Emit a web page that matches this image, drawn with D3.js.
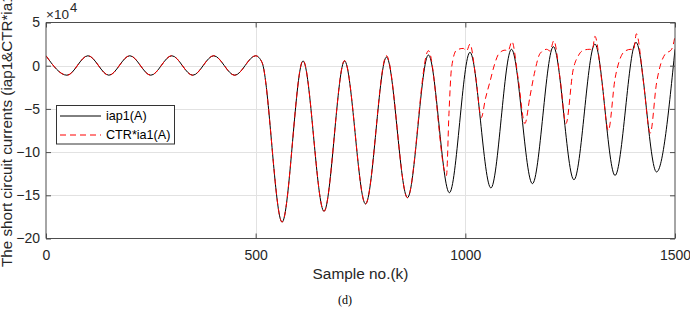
<!DOCTYPE html>
<html>
<head>
<meta charset="utf-8">
<script src="https://cdn.jsdelivr.net/npm/d3@7"></script>
<style>
  body { margin: 0; background: #fff; }
  svg { display: block; font-family: 'Liberation Sans', Arial, sans-serif; }
</style>
</head>
<body>
<div id="vis"></div>
<script>
// Sample no. and value (x1e4) at the turning points.
var iapT = [0, 50, 100, 150, 200, 250, 300, 350, 400, 450, 500, 515, 563, 613, 663, 712, 762, 812, 862,
  912, 962, 1011, 1061, 1110, 1160, 1210, 1259, 1309, 1357, 1407, 1456, 1500];
var iapV = [1.15, -1.1, 1.15, -1.1, 1.15, -1.1, 1.15, -1.1, 1.15, -1.1, 1.15, 0.4, -18.1, 0.55, -16.85,
  0.55, -16.0, 1.0, -15.27, 1.24, -14.7, 1.55, -14.15, 1.9, -13.65, 2.2, -13.2, 2.5, -12.7, 2.7, -12.3, 1.9];

var ctrT = [0, 50, 100, 150, 200, 250, 300, 350, 400, 450, 500, 515, 563, 613, 663, 712, 762, 812, 862, 912,
  955, 961, 967, 979, 995, 1003, 1011,
  1025, 1038, 1048, 1059, 1070, 1080, 1095, 1102, 1111,
  1126, 1142, 1154, 1166, 1178, 1194, 1202, 1211,
  1226, 1240, 1257, 1270, 1282, 1297, 1303, 1309,
  1326, 1341, 1357, 1369, 1381, 1395, 1401, 1408,
  1425, 1441, 1456, 1466, 1476, 1492, 1500];
var ctrV = [1.15, -1.1, 1.15, -1.1, 1.15, -1.1, 1.15, -1.1, 1.15, -1.1, 1.15, 0.4, -18.1, 0.6, -16.85, 0.6,
  -16.0, 1.15, -15.27, 1.74,
  -12.7, -5.5, -0.3, 1.8, 2.0, 1.7, 2.5,
  -1.4, -6.0, -3.8, -1.8, 0.2, 1.4, 1.8, 1.7, 2.8,
  -1.5, -6.7, -3.6, -0.6, 1.4, 1.9, 1.7, 2.9,
  -1.5, -6.7, -0.5, 1.2, 1.8, 1.9, 1.8, 3.4,
  -2.0, -7.5, -1.5, 0.8, 1.7, 1.9, 1.8, 3.7,
  -2.0, -7.8, -2.0, 0.2, 1.3, 1.9, 3.4];

var xTicks = [0, 500, 1000, 1500];
var yTicks = [-20, -15, -10, -5, 0, 5];
var legendLabels = ['iap1(A)', 'CTR*ia1(A)'];

var width = 690;
var height = 317;
var plot = {left: 46, right: 675, top: 22.5, bottom: 238.5};

var svg = d3.select('#vis')
  .append('svg')
  .attr('width', width)
  .attr('height', height);

var x = d3.scaleLinear().domain([0, 1500]).range([plot.left, plot.right]);
var y = d3.scaleLinear().domain([-20, 5]).range([plot.bottom, plot.top]);

svg.append('clipPath')
  .attr('id', 'clip')
  .append('rect')
  .attr('x', plot.left)
  .attr('y', plot.top)
  .attr('width', plot.right - plot.left)
  .attr('height', plot.bottom - plot.top);

// grid
svg.append('g')
  .selectAll('line')
  .data(xTicks.slice(1, -1))
  .enter()
  .append('line')
  .attr('x1', d => Math.round(x(d)) + 0.5)
  .attr('x2', d => Math.round(x(d)) + 0.5)
  .attr('y1', plot.top)
  .attr('y2', plot.bottom)
  .style('stroke', '#e2e2e2');

svg.append('g')
  .selectAll('line')
  .data(yTicks.slice(1, -1))
  .enter()
  .append('line')
  .attr('y1', d => Math.round(y(d)) + 0.5)
  .attr('y2', d => Math.round(y(d)) + 0.5)
  .attr('x1', plot.left)
  .attr('x2', plot.right)
  .style('stroke', '#e2e2e2');

// waveforms
var line = d3.line()
  .x(d => x(d[0]))
  .y(d => y(d[1]))
  .curve(d3.curveMonotoneX);

var iapData = d3.zip(iapT, iapV);
var ctrData = d3.zip(ctrT, ctrV);

svg.append('path')
  .datum(iapData)
  .attr('clip-path', 'url(#clip)')
  .attr('d', line)
  .style('fill', 'none')
  .style('stroke', '#000')
  .style('stroke-width', 1);

svg.append('path')
  .datum(ctrData)
  .attr('clip-path', 'url(#clip)')
  .attr('d', line)
  .style('fill', 'none')
  .style('stroke', '#ff0000')
  .style('stroke-width', 1)
  .style('stroke-dasharray', '6,4');

// axes box with inward ticks on all four sides
var axisColor = '#4d4d4d';
var bottomAxis = d3.axisBottom(x).tickValues(xTicks).tickSize(-5).tickPadding(12).tickFormat(d3.format('d'));
var topAxis = d3.axisTop(x).tickValues(xTicks).tickSize(-5).tickFormat('');
var leftAxis = d3.axisLeft(y).tickValues(yTicks).tickSize(-5).tickPadding(6);
var rightAxis = d3.axisRight(y).tickValues(yTicks).tickSize(-5).tickFormat('');

function styleAxis(g) {
  g.select('.domain').style('stroke', axisColor);
  g.selectAll('.tick line').style('stroke', axisColor);
  g.selectAll('.tick text')
    .style('font-family', "'Liberation Sans', Arial, sans-serif")
    .style('font-size', '14px')
    .style('fill', '#262626');
}

svg.append('g')
  .attr('transform', `translate(0, ${plot.bottom})`)
  .call(bottomAxis)
  .call(g => g.select('.domain').attr('d', `M${plot.left},0H${plot.right}`))
  .call(styleAxis);

svg.append('g')
  .attr('transform', `translate(0, ${plot.top})`)
  .call(topAxis)
  .call(g => g.select('.domain').attr('d', `M${plot.left},0H${plot.right}`))
  .call(styleAxis);

svg.append('g')
  .attr('transform', `translate(${plot.left}, 0)`)
  .call(leftAxis)
  .call(g => g.select('.domain').attr('d', `M0,${plot.top}V${plot.bottom}`))
  .call(styleAxis);

svg.append('g')
  .attr('transform', `translate(${plot.right}, 0)`)
  .call(rightAxis)
  .call(g => g.select('.domain').attr('d', `M0,${plot.top}V${plot.bottom}`))
  .call(styleAxis);

// exponent label
var expo = svg.append('text')
  .attr('x', 46)
  .attr('y', 18.5)
  .style('font-size', '13.5px')
  .style('fill', '#262626');
expo.append('tspan').text('\u00d710');
expo.append('tspan')
  .attr('dy', -7)
  .attr('dx', 1)
  .style('font-size', '13px')
  .text('4');

// axis titles
svg.append('text')
  .attr('x', (plot.left + plot.right) / 2)
  .attr('y', 279)
  .attr('text-anchor', 'middle')
  .style('font-size', '15.4px')
  .style('fill', '#262626')
  .text('Sample no.(k)');

svg.append('text')
  .attr('transform', 'translate(12, 267) rotate(-90)')
  .attr('text-anchor', 'start')
  .style('font-size', '15.2px')
  .style('fill', '#262626')
  .text('The short circuit currents (iap1&CTR*ia1(A))');

svg.append('text')
  .attr('x', 345)
  .attr('y', 304)
  .attr('text-anchor', 'middle')
  .style('font-family', "'Liberation Serif', 'Times New Roman', serif")
  .style('font-size', '12px')
  .style('fill', '#000')
  .text('(d)');

// legend
var legend = svg.append('g');
legend.append('rect')
  .attr('x', 56.5)
  .attr('y', 105.5)
  .attr('width', 118)
  .attr('height', 38.5)
  .style('fill', '#fff')
  .style('stroke', '#333');

var rows = legend.selectAll('g.row')
  .data(legendLabels)
  .enter()
  .append('g')
  .attr('class', 'row')
  .attr('transform', (d, i) => `translate(0, ${116 + i * 19})`);

rows.append('line')
  .attr('x1', 60)
  .attr('x2', 101)
  .style('stroke', (d, i) => (i === 0 ? '#000' : '#ff0000'))
  .style('stroke-dasharray', (d, i) => (i === 0 ? null : '6,4'));

rows.append('text')
  .attr('x', 106)
  .attr('dy', '0.35em')
  .style('font-size', '12.6px')
  .style('fill', '#000')
  .text(d => d);
</script>
</body>
</html>
